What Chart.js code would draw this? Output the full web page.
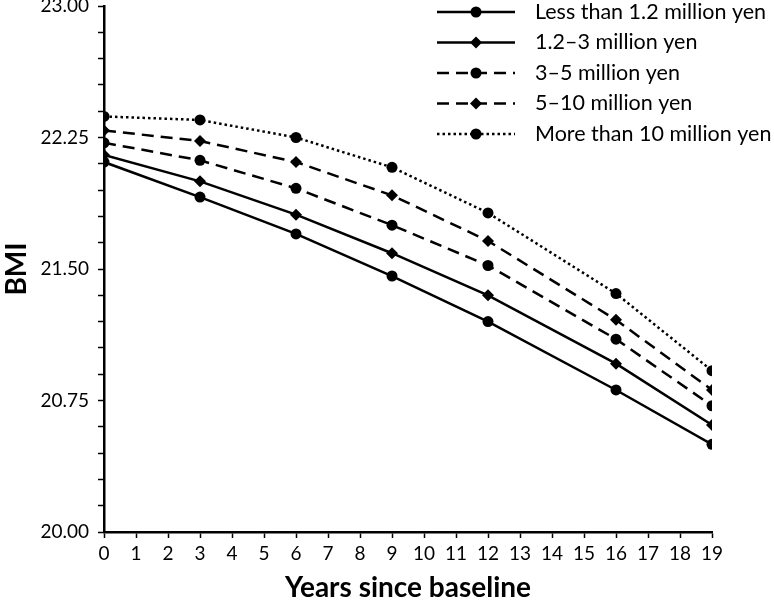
<!DOCTYPE html>
<html lang="en">
<head>
  <meta charset="UTF-8" />
  <title>BMI by household income</title>
  <script src="https://cdn.jsdelivr.net/npm/chart.js"></script>
  <style>
    body {
      margin: 0;
      background: white;
    }
    canvas {
      display: block;
    }
  </style>
</head>
<body>

<canvas id="bmiChart" width="774" height="609"></canvas>

<script>
  // years since baseline at each survey wave
  const years = [0, 3, 6, 9, 12, 16, 19];

  // BMI per income group
  const lessThan12 = [22.11, 21.91, 21.70, 21.46, 21.20, 20.81, 20.50];
  const from12to3 = [22.15, 22.00, 21.81, 21.59, 21.35, 20.96, 20.61];
  const from3to5 = [22.22, 22.12, 21.96, 21.75, 21.52, 21.10, 20.72];
  const from5to10 = [22.29, 22.23, 22.11, 21.92, 21.66, 21.21, 20.81];
  const moreThan10 = [22.37, 22.35, 22.25, 22.08, 21.82, 21.36, 20.92];

  const groupLabels = [
    'Less than 1.2 million yen',
    '1.2\u20133 million yen',
    '3\u20135 million yen',
    '5\u201310 million yen',
    'More than 10 million yen'
  ];

  const yMin = 20, yMax = 23, yMinorStep = 0.15, yMajorStep = 0.75;
  const xMin = 0, xMax = 19;

  const FONT = 'Lato, "Open Sans", sans-serif';

  function series(values) {
    return years.map((yr, i) => ({ x: yr, y: values[i] }));
  }

  function makeDataset(label, values, dash, pointStyle, radius) {
    return {
      label: label,
      data: series(values),
      borderColor: '#000',
      backgroundColor: '#000',
      borderWidth: 2.5,
      borderDash: dash,
      pointStyle: pointStyle,
      pointRadius: radius,
      pointBackgroundColor: '#000',
      pointBorderColor: '#000',
      pointBorderWidth: 0,
      tension: 0
    };
  }

  const datasets = [
    makeDataset(groupLabels[0], lessThan12, [], 'circle', 5.5),
    makeDataset(groupLabels[1], from12to3, [], 'rectRot', 6),
    makeDataset(groupLabels[2], from3to5, [12, 7], 'circle', 5.5),
    makeDataset(groupLabels[3], from5to10, [12, 7], 'rectRot', 6),
    makeDataset(groupLabels[4], moreThan10, [2.5, 3], 'circle', 5.5)
  ];

  // legend with line + marker samples, drawn in the top-right of the plot
  const lineLegend = {
    id: 'lineLegend',
    afterDraw(chart) {
      const ctx = chart.ctx;
      const area = chart.chartArea;
      const x0 = area.right - 275;
      const x1 = area.right - 197;
      const cx = (x0 + x1) / 2;
      const tx = area.right - 177;
      let y = area.top + 6;
      ctx.save();
      chart.data.datasets.forEach(ds => {
        ctx.strokeStyle = ds.borderColor;
        ctx.lineWidth = ds.borderWidth;
        ctx.setLineDash(ds.borderDash);
        ctx.beginPath();
        ctx.moveTo(x0, y);
        ctx.lineTo(x1, y);
        ctx.stroke();
        ctx.setLineDash([]);
        ctx.fillStyle = ds.pointBackgroundColor;
        ctx.beginPath();
        if (ds.pointStyle === 'circle') {
          ctx.arc(cx, y, ds.pointRadius, 0, Math.PI * 2);
        } else {
          const r = ds.pointRadius;
          ctx.moveTo(cx, y - r);
          ctx.lineTo(cx + r, y);
          ctx.lineTo(cx, y + r);
          ctx.lineTo(cx - r, y);
          ctx.closePath();
        }
        ctx.fill();
        ctx.font = '21.5px ' + FONT;
        ctx.textBaseline = 'middle';
        ctx.textAlign = 'left';
        ctx.fillStyle = '#000';
        ctx.fillText(ds.label, tx, y);
        y += 30.5;
      });
      ctx.restore();
    }
  };

  new Chart(document.getElementById('bmiChart'), {
    type: 'line',
    data: { datasets: datasets },
    options: {
      responsive: false,
      animation: false,
      layout: { padding: { top: 6, right: 62, left: 0, bottom: 0 } },
      plugins: {
        legend: { display: false },
        tooltip: { enabled: false }
      },
      scales: {
        x: {
          type: 'linear',
          min: xMin,
          max: xMax,
          afterFit(scale) { scale.height = 77; },
          ticks: {
            stepSize: 1,
            color: '#000',
            font: { family: FONT, size: 19 },
            padding: 4
          },
          grid: {
            drawOnChartArea: false,
            drawTicks: true,
            tickLength: 6,
            tickColor: '#000',
            tickWidth: 1.5
          },
          border: { color: '#000', width: 2.5 },
          title: {
            display: true,
            text: 'Years since baseline',
            color: '#000',
            font: { family: FONT, size: 28, weight: 'bold' },
            padding: { top: 4, bottom: 4 }
          }
        },
        y: {
          min: yMin,
          max: yMax,
          afterFit(scale) {
            scale.width = 104;
            scale.paddingTop = 0;
            scale.paddingBottom = 0;
          },
          ticks: {
            stepSize: yMinorStep,
            autoSkip: false,
            color: '#000',
            font: { family: FONT, size: 19 },
            padding: 9,
            callback(v) {
              const k = (v - yMin) / yMajorStep;
              return Math.abs(k - Math.round(k)) < 1e-6 ? v.toFixed(2) : '';
            }
          },
          grid: {
            drawOnChartArea: false,
            drawTicks: true,
            tickLength: 6,
            tickColor: '#000',
            tickWidth: 1.5
          },
          border: { color: '#000', width: 2.5 },
          title: {
            display: true,
            text: 'BMI',
            color: '#000',
            font: { family: FONT, size: 28, weight: 'bold' },
            padding: { top: 0, bottom: 0 }
          }
        }
      }
    },
    plugins: [lineLegend]
  });
</script>

</body>
</html>
